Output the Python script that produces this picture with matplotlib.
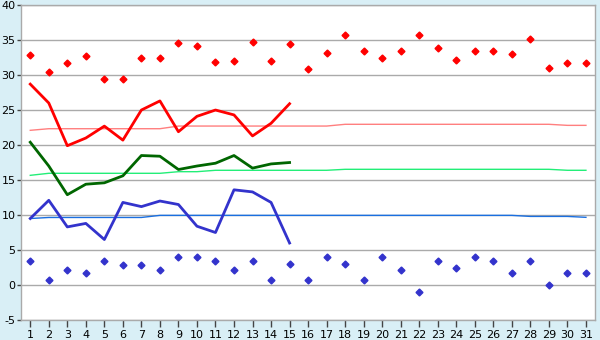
import matplotlib
matplotlib.use("Agg")
from matplotlib import pyplot as plt

days = list(range(1, 32))

# daily max / min (markers), all month
tmax = [32.8, 30.4, 31.7, 32.7, 29.4, 29.4, 32.5, 32.5, 34.6, 34.2,
        31.8, 32.0, 34.7, 32.0, 34.4, 30.8, 33.2, 35.7, 33.4, 32.4,
        33.5, 35.7, 33.9, 32.2, 33.4, 33.4, 32.95, 35.2, 31.0, 31.7, 31.7]
tmin = [3.4, 0.7, 2.2, 1.7, 3.4, 2.8, 2.8, 2.2, 4.0, 4.0,
        3.4, 2.2, 3.4, 0.7, 3.0, 0.7, 4.0, 3.0, 0.7, 4.0,
        2.2, -1.0, 3.4, 2.4, 4.0, 3.4, 1.7, 3.4, -0.05, 1.7, 1.7]

# measured lines, first 15 days
line_days = list(range(1, 16))
line_max = [28.7, 26.0, 19.9, 21.0, 22.7, 20.7, 25.0, 26.3, 21.9, 24.1,
            25.0, 24.3, 21.3, 23.1, 25.9]
line_mean = [20.4, 17.0, 12.9, 14.4, 14.6, 15.6, 18.5, 18.4, 16.5, 17.0,
             17.4, 18.5, 16.7, 17.3, 17.5]
line_min = [9.5, 12.1, 8.3, 8.8, 6.5, 11.8, 11.2, 12.0, 11.5, 8.4,
            7.5, 13.6, 13.3, 11.8, 6.0]

# normals
norm_max = [22.1] + [22.33] * 7 + [22.71] * 9 + [22.96] * 12 + [22.81] * 2
norm_mean = [15.67] + [15.96] * 7 + [16.19] * 2 + [16.39] * 7 + [16.53] * 12 + [16.39] * 2
norm_min = [9.5] + [9.65] * 6 + [9.95] * 20 + [9.8] * 3 + [9.67]

plt.rcParams["axes.unicode_minus"] = False

bg = "#d9eff6"
fig = plt.figure(figsize=(6, 3.4), dpi=100, facecolor=bg)
ax = fig.add_axes([0.035, 0.0588, 0.957, 0.9264])
ax.set_facecolor("white")

ax.plot(days, norm_max, color="#ff7f7f", lw=1.0, zorder=2)
ax.plot(days, norm_mean, color="#22ee77", lw=1.0, zorder=2)
ax.plot(days, norm_min, color="#1a6fe0", lw=1.0, zorder=2)

ax.plot(line_days, line_max, color="#ff0000", lw=2.0, zorder=3)
ax.plot(line_days, line_mean, color="#006600", lw=2.0, zorder=3)
ax.plot(line_days, line_min, color="#3333cc", lw=2.0, zorder=3)

ax.plot(days, tmax, ls="none", marker="D", ms=3.5, color="#ff0000", zorder=4)
ax.plot(days, tmin, ls="none", marker="D", ms=3.5, color="#3333cc", zorder=4)

ax.set_xlim(0.5, 31.5)
ax.set_ylim(-5, 40)
ax.set_xticks(days)
ax.set_yticks(range(-5, 41, 5))
ax.grid(axis="y", color="#aaaaaa", lw=1.0, zorder=1)
ax.set_axisbelow(True)
for s in ["left", "bottom", "right", "top"]:
    ax.spines[s].set_color("#aaaaaa")
    ax.spines[s].set_linewidth(1.0)
ax.tick_params(axis="both", colors="#444444", labelcolor="black", labelsize=8,
               length=5, width=1, direction="out")
ax.tick_params(axis="y", length=3, pad=1)
ax.tick_params(axis="x", pad=2)

plt.savefig("out.png", dpi=100, facecolor=bg)
